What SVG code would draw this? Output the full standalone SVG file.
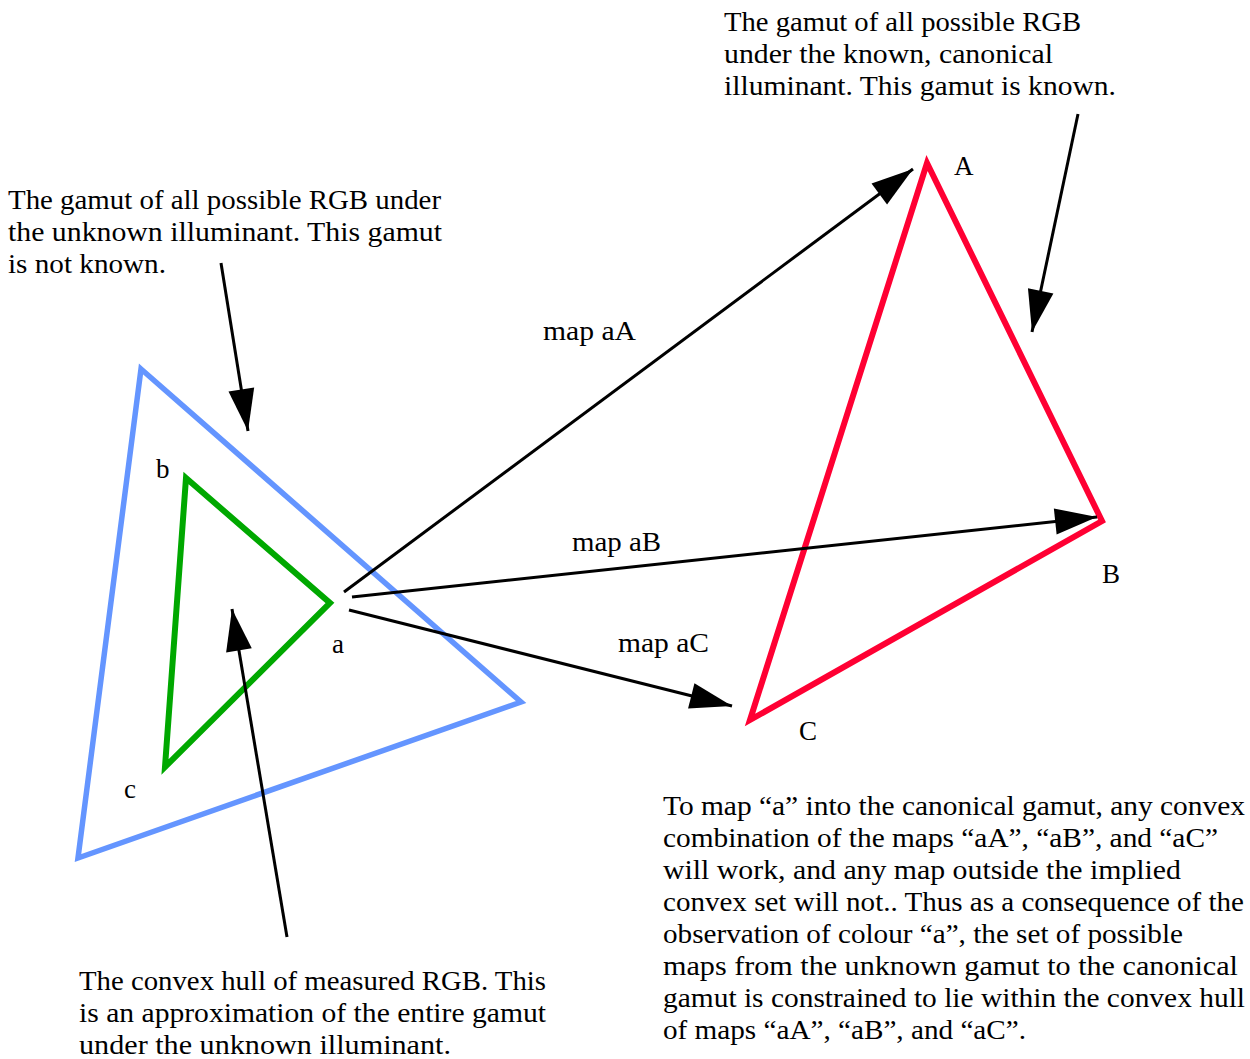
<svg xmlns="http://www.w3.org/2000/svg" width="1250" height="1059" viewBox="0 0 1250 1059">
<style>
text{font-family:"Liberation Serif","Times New Roman",serif;font-size:27px;fill:#000}
.tri{fill:none;stroke-linejoin:miter;stroke-miterlimit:10}
.arr{stroke:#000;stroke-width:3;fill:none}
</style>
<defs>
<marker id="ah" markerUnits="userSpaceOnUse" viewBox="-44 -15 46 30" refX="0" refY="0" markerWidth="46" markerHeight="30" orient="auto" overflow="visible">
<path d="M-42,-13 L0,0 L-42,13 z" fill="#000"/>
</marker>
</defs>
<rect width="1250" height="1059" fill="#fff"/>
<g id="unknown-gamut"><polygon class="tri" points="141,369 521,702 78,858" stroke="#6495FF" stroke-width="5.5"/></g>
<g id="measured-hull"><polygon class="tri" points="186,478 330,603 165,767" stroke="#00A800" stroke-width="6"/>
<text x="156" y="478">b</text><text x="332" y="653">a</text><text x="124" y="798">c</text></g>
<g id="canonical-gamut"><polygon class="tri" points="927,163 1102,521 750,720" stroke="#FF0033" stroke-width="6"/>
<text x="954" y="175">A</text><text x="1102" y="583">B</text><text x="799" y="740">C</text></g>
<g id="connectors">
<line class="arr" x1="344" y1="592" x2="913" y2="169" marker-end="url(#ah)"/>
<line class="arr" x1="352" y1="597" x2="1097" y2="517" marker-end="url(#ah)"/>
<line class="arr" x1="349" y1="610" x2="732" y2="706" marker-end="url(#ah)"/>
<line class="arr" x1="221" y1="263" x2="248" y2="431" marker-end="url(#ah)"/>
<line class="arr" x1="1078" y1="114" x2="1032" y2="332" marker-end="url(#ah)"/>
<line class="arr" x1="287" y1="937" x2="232" y2="609" marker-end="url(#ah)"/>
</g>
<g id="labels">
<text x="543" y="340" textLength="93" lengthAdjust="spacingAndGlyphs">map aA</text>
<text x="572" y="551" textLength="89" lengthAdjust="spacingAndGlyphs">map aB</text>
<text x="618" y="652" textLength="91" lengthAdjust="spacingAndGlyphs">map aC</text>
</g>
<g id="note-canonical">
<text x="724" y="31" textLength="357" lengthAdjust="spacingAndGlyphs">The gamut of all possible RGB</text>
<text x="724" y="63" textLength="329" lengthAdjust="spacingAndGlyphs">under the known, canonical</text>
<text x="724" y="95" textLength="392" lengthAdjust="spacingAndGlyphs">illuminant. This gamut is known.</text>
</g>
<g id="note-unknown">
<text x="8" y="209" textLength="433" lengthAdjust="spacingAndGlyphs">The gamut of all possible RGB under</text>
<text x="8" y="241" textLength="434" lengthAdjust="spacingAndGlyphs">the unknown illuminant. This gamut</text>
<text x="8" y="273" textLength="158" lengthAdjust="spacingAndGlyphs">is not known.</text>
</g>
<g id="note-hull">
<text x="79" y="990" textLength="467" lengthAdjust="spacingAndGlyphs">The convex hull of measured RGB. This</text>
<text x="79" y="1022" textLength="467" lengthAdjust="spacingAndGlyphs">is an approximation of the entire gamut</text>
<text x="79" y="1054" textLength="372" lengthAdjust="spacingAndGlyphs">under the unknown illuminant.</text>
</g>
<g id="note-maps">
<text x="663" y="815" textLength="582" lengthAdjust="spacingAndGlyphs">To map “a” into the canonical gamut, any convex</text>
<text x="663" y="847" textLength="555" lengthAdjust="spacingAndGlyphs">combination of the maps “aA”, “aB”, and “aC”</text>
<text x="663" y="879" textLength="518" lengthAdjust="spacingAndGlyphs">will work, and any map outside the implied</text>
<text x="663" y="911" textLength="581" lengthAdjust="spacingAndGlyphs">convex set will not.. Thus as a consequence of the</text>
<text x="663" y="943" textLength="520" lengthAdjust="spacingAndGlyphs">observation of colour “a”, the set of possible</text>
<text x="663" y="975" textLength="575" lengthAdjust="spacingAndGlyphs">maps from the unknown gamut  to the canonical</text>
<text x="663" y="1007" textLength="582" lengthAdjust="spacingAndGlyphs">gamut is constrained to lie within the convex hull</text>
<text x="663" y="1039" textLength="363" lengthAdjust="spacingAndGlyphs">of maps “aA”, “aB”, and “aC”.</text>
</g>
</svg>
